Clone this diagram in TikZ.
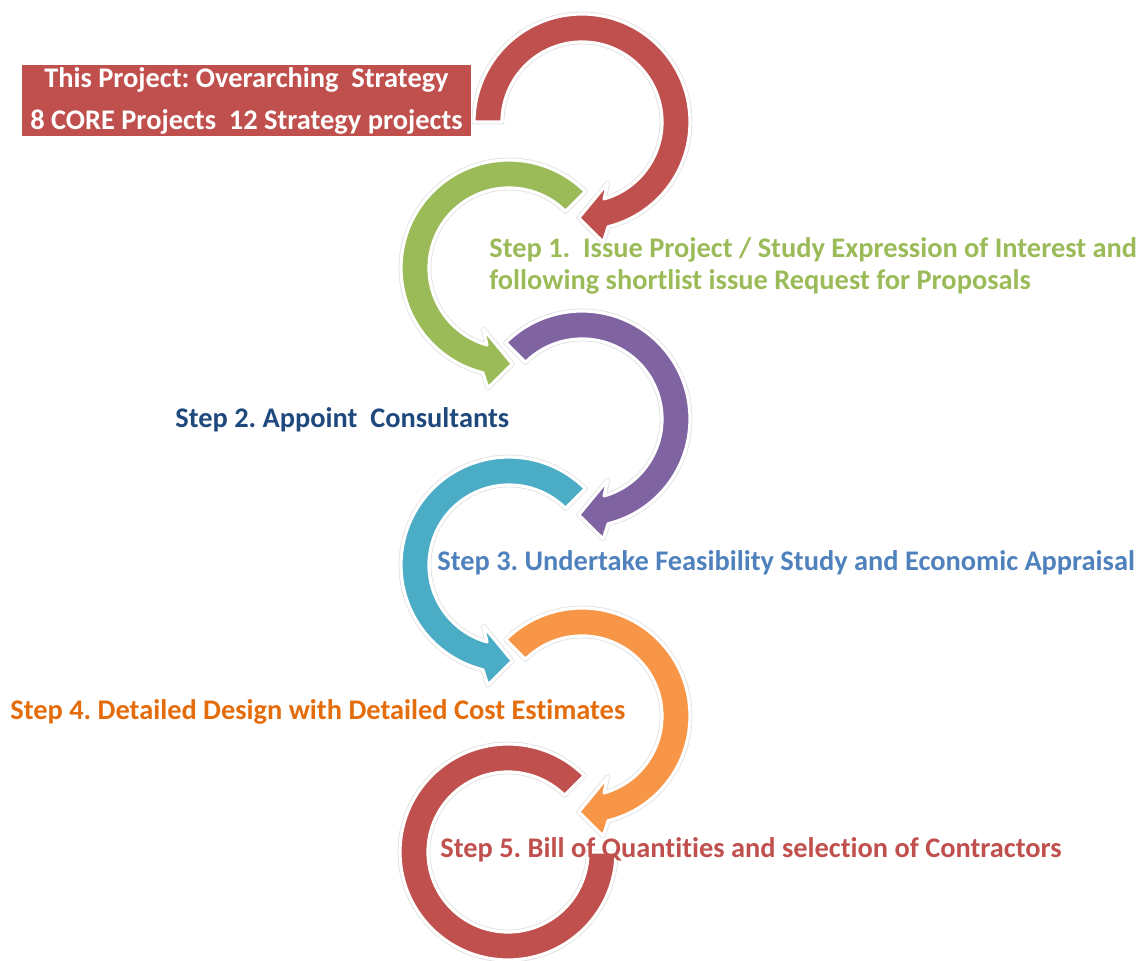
\documentclass[tikz,border=0pt]{standalone}
\usepackage{fontspec}
\setmainfont{Carlito}[Ligatures=NoCommon]
\usetikzlibrary{positioning}
\usepackage{xcolor}
\definecolor{redc}{HTML}{C0504D}
\definecolor{greenc}{HTML}{9BBB59}
\definecolor{purplec}{HTML}{8064A2}
\definecolor{cyanc}{HTML}{4BACC6}
\definecolor{orangec}{HTML}{F79646}
\definecolor{navyc}{HTML}{1F497D}
\definecolor{bluec}{HTML}{4F81BD}
\definecolor{darkorangec}{HTML}{E46C0A}
\frenchspacing
\newcommand{\circarrow}[4]{%
  \begin{scope}[shift={(#1)},xscale=#3]
    \filldraw[ring,fill=#4] (#2:108) arc[start angle=#2,end angle=-76,radius=108]
      -- (-80:122) -- (-92:96) -- (-67:66) -- (-74:80)
      arc[start angle=-74,end angle=#2,radius=80] -- cycle;
  \end{scope}}

\begin{document}
\begin{tikzpicture}[x=0.5pt,y=0.5pt,
  ring/.style={preaction={draw=black!12,line width=2.4pt,line join=round},draw=white,line width=1.6pt,line join=round},
  steptext/.style={font=\fontsize{14.2}{16}\selectfont\bfseries,anchor=west,inner sep=0pt,align=left}]
\useasboundingbox (0,0) rectangle (1141,960);

\coordinate (redtop) at (582,838);
\coordinate (green) at (509,692);
\coordinate (purple) at (582,541);
\coordinate (cyan) at (509,395);
\coordinate (orange) at (582,244);
\coordinate (redbot) at (508,108);

\circarrow{redtop}{180}{1}{redc}
\circarrow{green}{135}{-1}{greenc}
\circarrow{purple}{135}{1}{purplec}
\circarrow{cyan}{135}{-1}{cyanc}
\circarrow{orange}{135}{1}{orangec}
\begin{scope}[shift={(redbot)}]
\filldraw[ring,fill=redc] (45:108) arc[start angle=45,end angle=360,radius=108]
  -- (0:80) arc[start angle=360,end angle=45,radius=80] -- cycle;
\end{scope}

\node [fill=redc,text=white,font=\fontsize{14.2}{21}\selectfont\bfseries,align=center,
  minimum width=224.5pt,minimum height=35.5pt,inner sep=0pt] (overall) at (246.5,859.5)
  {This Project: Overarching~ Strategy\\8 CORE Projects~ 12 Strategy projects};

\node [steptext,text=greenc] (step1) at (489,694)
  {Step 1.~ Issue Project / Study Expression of Interest and\\following shortlist issue Request for Proposals};
\node [steptext,text=navyc] (step2) at (175,540) {Step 2. Appoint~ Consultants};
\node [steptext,text=bluec] (step3) at (437,397) {Step 3. Undertake Feasibility Study and Economic Appraisal};
\node [steptext,text=darkorangec] (step4) at (10,248) {Step 4. Detailed Design with Detailed Cost Estimates};
\node [steptext,text=redc] (step5) at (440,110) {Step 5. Bill of Quantities and selection of Contractors};
\end{tikzpicture}
\end{document}
